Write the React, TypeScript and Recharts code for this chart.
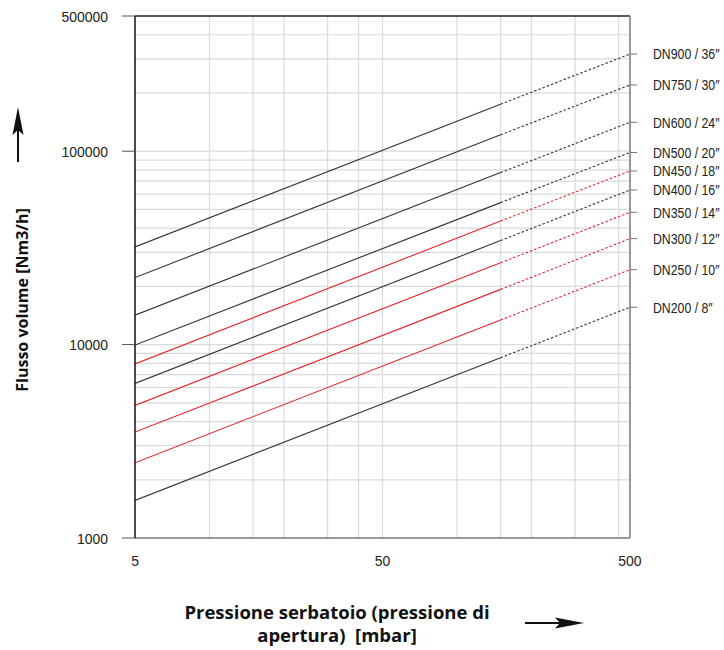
import { LineChart, Line, XAxis, YAxis, CartesianGrid, ReferenceLine } from "recharts"

// pressure points (mbar): start, end of solid part, end of dashed part
const pressures = [5, 150, 500]

const sizeLabels = [
  "DN900 / 36″",
  "DN750 / 30″",
  "DN600 / 24″",
  "DN500 / 20″",
  "DN450 / 18″",
  "DN400 / 16″",
  "DN350 / 14″",
  "DN300 / 12″",
  "DN250 / 10″",
  "DN200 / 8″",
]

const BLACK = "#333"
const RED = "#e3262d"
const seriesColors = [BLACK, BLACK, BLACK, BLACK, RED, BLACK, RED, RED, RED, BLACK]

// flow (Nm3/h) read at 5, 150 and 500 mbar
const flowAt5 = [32000, 22200, 14200, 9950, 7950, 6300, 4850, 3530, 2450, 1565]
const flowAt150 = [175000, 121500, 77500, 54200, 43500, 34500, 26500, 19300, 13400, 8550]
const flowAt500 = [318000, 220000, 141000, 98500, 79000, 63000, 48300, 35300, 24400, 15600]

const xTicks = [5, 50, 500]
const yTicks = [1000, 10000, 100000, 500000]
const xGrid = [10, 15, 20, 25, 30, 35, 40, 45, 50, 100, 150, 200, 250, 300, 350, 400, 450]
const yGrid = [
  2000, 3000, 4000, 5000, 6000, 7000, 8000, 9000, 10000,
  20000, 30000, 40000, 50000, 60000, 70000, 80000, 90000, 100000,
  200000, 300000, 400000,
]

const flowsBySeries = sizeLabels.map((_, s) => [flowAt5[s], flowAt150[s], flowAt500[s]])

const rows = pressures.map((p, i) => {
  const row: Record<string, number | null> = { p }
  flowsBySeries.forEach((f, s) => {
    row[`s${s}`] = i <= 1 ? f[i] : null
    row[`d${s}`] = i >= 1 ? f[i] : null
  })
  return row
})

const TICK_FONT = "'Liberation Sans', Arial, sans-serif"
const TITLE_FONT = "'Open Sans', sans-serif"

// condensed-looking tick text (the original uses a condensed face)
const NarrowTick = (props: any) => {
  const { x, y, payload, textAnchor, kind } = props
  const label = kind === "size" ? sizeLabels[flowAt500.indexOf(payload.value)] : String(payload.value)
  const sx = kind === "size" ? 0.82 : 0.9
  const dy = kind === "x" ? "0.71em" : "0.36em"
  return (
    <text
      x={0}
      y={0}
      dy={dy}
      transform={`translate(${x} ${y}) scale(${sx} 1)`}
      textAnchor={textAnchor}
      fontFamily={TICK_FONT}
      fontSize={kind === "size" ? 15 : 15.5}
      fill="#222"
    >
      {label}
    </text>
  )
}

export default function App() {
  return (
    <div style={{ position: "absolute", left: 0, top: 0, width: 724, height: 650, background: "#fff" }}>
      <LineChart width={724} height={650} data={rows} margin={{ top: 16, right: 0, left: 75, bottom: 82 }}>
        <CartesianGrid
          stroke="#dadada"
          strokeWidth={1.2}
          horizontalValues={yGrid}
          verticalValues={xGrid}
        />
        <XAxis
          dataKey="p"
          type="number"
          scale="log"
          domain={[5, 500]}
          ticks={xTicks}
          allowDataOverflow
          height={30}
          tickSize={0}
          tickMargin={17}
          tickLine={false}
          axisLine={{ stroke: "#777", strokeWidth: 1.5 }}
          tick={<NarrowTick kind="x" />}
        />
        <YAxis
          type="number"
          scale="log"
          domain={[1000, 500000]}
          ticks={yTicks}
          allowDataOverflow
          interval={0}
          width={60}
          tickSize={13}
          tickMargin={14}
          tickLine={{ stroke: "#555" }}
          axisLine={{ stroke: "#111", strokeWidth: 1.5 }}
          tick={<NarrowTick kind="y" />}
        />
        <YAxis
          yAxisId="r"
          orientation="right"
          type="number"
          scale="log"
          domain={[1000, 500000]}
          ticks={flowAt500}
          allowDataOverflow
          interval={0}
          width={94}
          tickSize={7}
          tickMargin={16}
          tickLine={{ stroke: "#777" }}
          axisLine={{ stroke: "#777", strokeWidth: 1.5 }}
          tick={<NarrowTick kind="size" />}
        />
        <ReferenceLine y={500000} stroke="#222" strokeWidth={1.5} />
        {sizeLabels.map((_, s) => (
          <Line
            key={`s${s}`}
            type="linear"
            dataKey={`s${s}`}
            stroke={seriesColors[s]}
            strokeWidth={1.1}
            dot={false}
            activeDot={false}
            isAnimationActive={false}
          />
        ))}
        {sizeLabels.map((_, s) => (
          <Line
            key={`d${s}`}
            type="linear"
            dataKey={`d${s}`}
            stroke={seriesColors[s]}
            strokeWidth={1.1}
            strokeDasharray="2.5 2"
            dot={false}
            activeDot={false}
            isAnimationActive={false}
          />
        ))}
      </LineChart>
      <svg
        width={724}
        height={650}
        style={{ position: "absolute", left: 0, top: 0, pointerEvents: "none" }}
      >
        <text
          x={22}
          y={300}
          transform="rotate(-90 22 300)"
          textAnchor="middle"
          dominantBaseline="central"
          fontFamily={TITLE_FONT}
          fontWeight="bold"
          fontSize={16}
          fill="#111"
        >
          Flusso volume [Nm3/h]
        </text>
        <line x1={18} y1={162} x2={18} y2={128} stroke="#111" strokeWidth={2} />
        <polygon points="18,107 12.5,135 18,130 23.5,135" fill="#111" />
        <text x={337} y={619} textAnchor="middle" fontFamily={TITLE_FONT} fontWeight="bold" fontSize={18.5} fill="#111">
          Pressione serbatoio (pressione di
        </text>
        <text x={337} y={642} textAnchor="middle" fontFamily={TITLE_FONT} fontWeight="bold" fontSize={18.5} fill="#111" xmlSpace="preserve">
          apertura)  [mbar]
        </text>
        <line x1={525} y1={623} x2={562} y2={623} stroke="#111" strokeWidth={2} />
        <polygon points="584,623 555,617.5 560,623 555,628.5" fill="#111" />
      </svg>
    </div>
  )
}
